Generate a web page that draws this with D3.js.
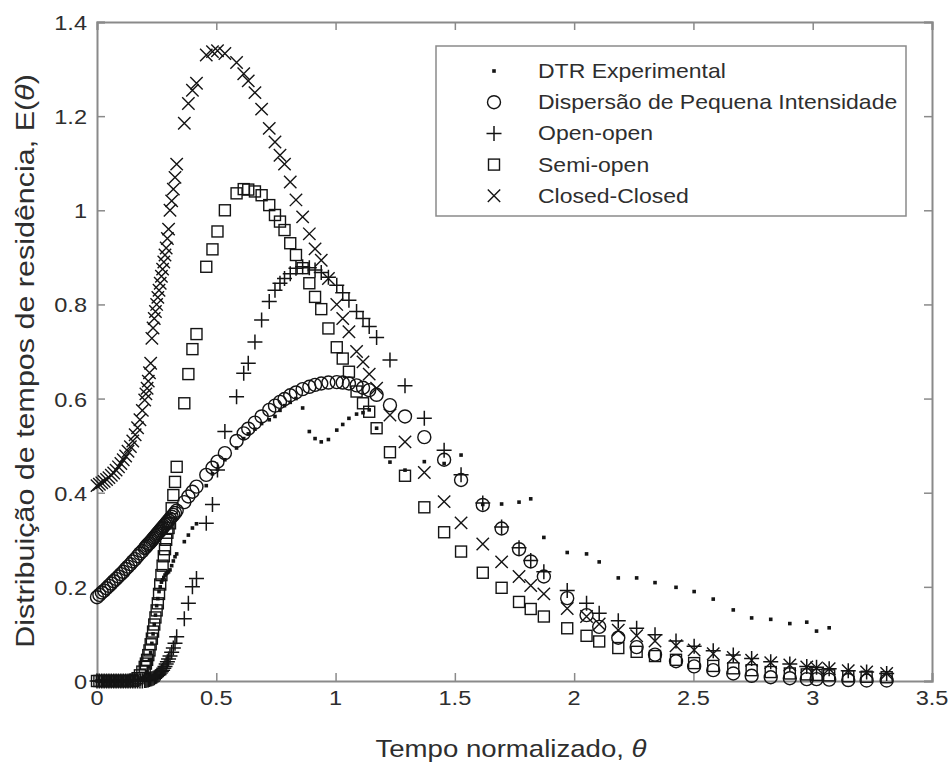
<!DOCTYPE html>
<html>
<head>
<meta charset="utf-8">
<script src="https://cdn.jsdelivr.net/npm/d3@7/dist/d3.min.js"></script>
<style>
  html, body { margin: 0; padding: 0; background: #fff; }
  svg { display: block; }
</style>
</head>
<body>
<svg id="chart" width="950" height="762"></svg>
<script>
// Normalised time grid shared by all series
const theta = [
  0, 0.01, 0.02, 0.03, 0.04, 0.05, 0.06, 0.07, 0.08, 0.09, 0.10, 0.11, 0.12, 0.13, 0.14, 0.15, 0.16, 0.17, 0.18, 0.19, 0.20,
  0.205, 0.21, 0.215, 0.22, 0.225, 0.23, 0.235, 0.24, 0.245, 0.25, 0.255, 0.26, 0.265, 0.27, 0.275, 0.28, 0.285, 0.29, 0.295, 0.30,
  0.306, 0.313, 0.32, 0.327, 0.334,
  0.366, 0.383, 0.40, 0.417,
  0.458, 0.484, 0.505, 0.536, 0.585, 0.615, 0.634, 0.662, 0.69, 0.722, 0.746, 0.767, 0.786, 0.81, 0.834, 0.862, 0.89, 0.914, 0.94, 0.97,
  1.005, 1.03, 1.056, 1.088, 1.115, 1.141, 1.172, 1.228, 1.291, 1.372, 1.455, 1.526, 1.617, 1.696, 1.769, 1.818, 1.873, 1.971,
  2.052, 2.105, 2.185, 2.262, 2.339, 2.427, 2.503, 2.583, 2.667, 2.744, 2.824, 2.904, 2.975, 3.016, 3.069, 3.149, 3.226, 3.31
];

// DTR Experimental
const experimental = [
  0, 0, 0, 0, 0, 0, 0, 0, 0, 0, 0, 0, 0, 0, 0, 0, 0.001, 0.002, 0.003, 0.006, 0.01,
  0.015, 0.02, 0.03, 0.045, 0.06, 0.08, 0.10, 0.12, 0.14, 0.16, 0.175, 0.19, 0.20, 0.21, 0.215, 0.22, 0.225, 0.228, 0.23, 0.232,
  0.236, 0.245, 0.255, 0.264, 0.27,
  0.296, 0.31, 0.325, 0.334,
  0.415, 0.44, 0.45, 0.47, 0.495, 0.515, 0.525, 0.535, 0.547, 0.555, 0.562, 0.575, 0.585, 0.592, 0.60, 0.58, 0.53, 0.515, 0.508, 0.513,
  0.533, 0.545, 0.558, 0.567, 0.57, 0.576, 0.537, 0.465, 0.448, 0.466, 0.462, 0.48, 0.375, 0.376, 0.38, 0.387, 0.305, 0.273,
  0.27, 0.253, 0.219, 0.219, 0.209, 0.199, 0.19, 0.174, 0.151, 0.134, 0.131, 0.122, 0.125, 0.106, 0.113, null, null, null
];

// Dispersão de Pequena Intensidade
const smallDispersion = [
  0.178, 0.183, 0.188, 0.192, 0.197, 0.202, 0.207, 0.212, 0.217, 0.222, 0.227, 0.232, 0.238, 0.243, 0.248, 0.254, 0.259, 0.265, 0.271, 0.276, 0.282,
  0.285, 0.288, 0.291, 0.293, 0.296, 0.299, 0.302, 0.305, 0.308, 0.311, 0.314, 0.317, 0.32, 0.323, 0.326, 0.329, 0.332, 0.335, 0.338, 0.341,
  0.345, 0.349, 0.353, 0.357, 0.362,
  0.38, 0.392, 0.402, 0.413,
  0.438, 0.453, 0.466, 0.484, 0.51, 0.526, 0.536, 0.549, 0.562, 0.576, 0.585, 0.593, 0.599, 0.607, 0.613, 0.62, 0.625, 0.629, 0.632, 0.634,
  0.635, 0.634, 0.632, 0.628, 0.623, 0.618, 0.608, 0.586, 0.562, 0.518, 0.47, 0.427, 0.374, 0.324, 0.28, 0.254, 0.222, 0.176,
  0.14, 0.115, 0.092, 0.072, 0.056, 0.042, 0.031, 0.023, 0.016, 0.011, 0.008, 0.006, 0.004, 0.004, 0.003, 0.002, 0.001, 0.001
];

// Open-open
const openOpen = [
  0, 0, 0, 0, 0, 0, 0, 0, 0, 0, 0, 0, 0, 0, 0, 0, 0, 0, 0, 0, 0.001,
  0.001, 0.002, 0.002, 0.003, 0.004, 0.005, 0.006, 0.007, 0.009, 0.01, 0.012, 0.014, 0.017, 0.02, 0.023, 0.027, 0.031, 0.036, 0.041, 0.047,
  0.053, 0.061, 0.07, 0.08, 0.094,
  0.132, 0.165, 0.2, 0.218,
  0.335, 0.375, 0.448, 0.53, 0.604, 0.654, 0.675, 0.72, 0.767, 0.806, 0.83, 0.845, 0.855, 0.865, 0.877, 0.88, 0.878, 0.873, 0.868, 0.858,
  0.841, 0.825, 0.809, 0.785, 0.77, 0.753, 0.73, 0.682, 0.627, 0.558, 0.49, 0.438, 0.378, 0.327, 0.283, 0.256, 0.232, 0.192,
  0.165, 0.144, 0.128, 0.112, 0.098, 0.085, 0.074, 0.064, 0.055, 0.048, 0.041, 0.036, 0.031, 0.029, 0.026, 0.022, 0.019, 0.016
];

// Semi-open
const semiOpen = [
  0, 0, 0, 0, 0, 0, 0, 0, 0, 0, 0, 0, 0, 0, 0, 0, 0.003, 0.006, 0.012, 0.02, 0.03,
  0.037, 0.045, 0.055, 0.065, 0.078, 0.09, 0.105, 0.12, 0.135, 0.15, 0.165, 0.185, 0.205, 0.225, 0.245, 0.265, 0.28, 0.30, 0.315, 0.325,
  0.335, 0.367, 0.395, 0.423, 0.455,
  0.59, 0.652, 0.705, 0.737,
  0.88, 0.917, 0.955, 1.0, 1.036, 1.045, 1.044, 1.04, 1.032, 1.011, 0.99, 0.976, 0.958, 0.93, 0.905, 0.877, 0.845, 0.816, 0.79, 0.749,
  0.709, 0.685, 0.657, 0.615, 0.59, 0.572, 0.537, 0.486, 0.436, 0.369, 0.316, 0.275, 0.23, 0.198, 0.168, 0.153, 0.137, 0.112,
  0.096, 0.084, 0.07, 0.062, 0.053, 0.045, 0.038, 0.032, 0.027, 0.023, 0.019, 0.016, 0.014, 0.013, 0.012, 0.01, 0.009, 0.008
];

// Closed-Closed
const closedClosed = [
  0.415, 0.418, 0.421, 0.424, 0.428, 0.432, 0.437, 0.442, 0.448, 0.455, 0.462, 0.47, 0.478, 0.488, 0.498, 0.51, 0.523, 0.538, 0.555, 0.575, 0.597,
  0.61, 0.622, 0.637, 0.655, 0.675, 0.728, 0.75, 0.77, 0.785, 0.80, 0.815, 0.83, 0.845, 0.86, 0.875, 0.89, 0.905, 0.92, 0.94, 0.96,
  1.0, 1.02, 1.045, 1.07, 1.098,
  1.185, 1.227, 1.255, 1.27,
  1.33, 1.337, 1.339, 1.333, 1.314, 1.29, 1.275, 1.25, 1.215, 1.174, 1.145, 1.117, 1.098, 1.06, 1.022, 0.986, 0.95, 0.918, 0.894, 0.855,
  0.80, 0.77, 0.742, 0.70, 0.678, 0.652, 0.622, 0.565, 0.508, 0.443, 0.381, 0.336, 0.291, 0.253, 0.222, 0.203, 0.185, 0.154,
  0.137, 0.121, 0.108, 0.096, 0.085, 0.075, 0.066, 0.058, 0.05, 0.044, 0.039, 0.034, 0.03, 0.028, 0.026, 0.022, 0.019, 0.016
];

const seriesNames = ["DTR Experimental", "Dispersão de Pequena Intensidade", "Open-open", "Semi-open", "Closed-Closed"];
const seriesValues = [experimental, smallDispersion, openOpen, semiOpen, closedClosed];
const seriesMarkers = ["dot", "circle", "plus", "square", "cross"];

const xTickValues = [0, 0.5, 1, 1.5, 2, 2.5, 3, 3.5];
const xTickLabels = ["0", "0.5", "1", "1.5", "2", "2.5", "3", "3.5"];
const yTickValues = [0, 0.2, 0.4, 0.6, 0.8, 1, 1.2, 1.4];
const yTickLabels = ["0", "0.2", "0.4", "0.6", "0.8", "1", "1.2", "1.4"];

const xTitle = "Tempo normalizado, ";
const yTitle = "Distribuição de tempos de residência, E(";

// ---- layout ----
const plot = { left: 97, right: 932, top: 22, bottom: 681 };
const axisColor = "#8a8a8a";
const textColor = "#2e2e2e";
const markColor = "#141414";
const fontFamily = "'Liberation Sans', Arial, Helvetica, sans-serif";
const stretch = 1.15;   // glyphs are set slightly wide

const svg = d3.select("#chart");
const x = d3.scaleLinear().domain([0, 3.5]).range([plot.left, plot.right]);
const y = d3.scaleLinear().domain([0, 1.4]).range([plot.bottom, plot.top]);

svg.append("rect").attr("width", 950).attr("height", 762).attr("fill", "#fff");

// Axes: ticks point inward on all four sides
const tick = 8;
svg.append("g").attr("transform", `translate(0,${plot.bottom})`)
  .call(d3.axisBottom(x).tickValues(xTickValues).tickSize(-tick).tickFormat(""));
svg.append("g").attr("transform", `translate(0,${plot.top})`)
  .call(d3.axisTop(x).tickValues(xTickValues).tickSize(-tick).tickFormat(""));
svg.append("g").attr("transform", `translate(${plot.left},0)`)
  .call(d3.axisLeft(y).tickValues(yTickValues).tickSize(-tick).tickFormat(""));
svg.append("g").attr("transform", `translate(${plot.right},0)`)
  .call(d3.axisRight(y).tickValues(yTickValues).tickSize(-tick).tickFormat(""));
svg.selectAll(".domain").attr("stroke", axisColor).attr("stroke-width", 2);
svg.selectAll(".tick line").attr("stroke", axisColor).attr("stroke-width", 1.5);

function label(parent, px, py, str, size, anchor) {
  return parent.append("text")
    .attr("transform", `translate(${px},${py}) scale(${stretch},1)`)
    .attr("text-anchor", anchor)
    .attr("font-family", fontFamily)
    .attr("font-size", size)
    .attr("fill", textColor)
    .text(str);
}

const tickFont = 20.5;
xTickValues.forEach((v, i) => label(svg, x(v), plot.bottom + 24, xTickLabels[i], tickFont, "middle"));
yTickValues.forEach((v, i) => label(svg, plot.left - 10, y(v) + 8, yTickLabels[i], tickFont, "end"));

// Axis titles
const xt = label(svg, 511, 757, xTitle, 24, "middle");
xt.append("tspan").attr("font-style", "italic").text("\u03B8");
const yt = svg.append("text")
  .attr("transform", `translate(34,361) rotate(-90) scale(${stretch},1)`)
  .attr("text-anchor", "middle")
  .attr("font-family", fontFamily)
  .attr("font-size", 26.5)
  .attr("fill", textColor)
  .text(yTitle);
yt.append("tspan").attr("font-style", "italic").text("\u03B8");
yt.append("tspan").text(")");

// Marker painters
function drawMarker(g, kind, cx, cy) {
  if (kind === "dot") {
    g.append("rect").attr("x", cx - 1.8).attr("y", cy - 1.8).attr("width", 3.6).attr("height", 3.6)
      .attr("fill", markColor);
  } else if (kind === "circle") {
    g.append("circle").attr("cx", cx).attr("cy", cy).attr("r", 6.5)
      .attr("fill", "none").attr("stroke", markColor).attr("stroke-width", 1.4);
  } else if (kind === "plus") {
    const s = 7.5;
    g.append("path").attr("d", `M${cx - s},${cy}H${cx + s}M${cx},${cy - s}V${cy + s}`)
      .attr("fill", "none").attr("stroke", markColor).attr("stroke-width", 1.5);
  } else if (kind === "square") {
    const s = 5.5;
    g.append("rect").attr("x", cx - s).attr("y", cy - s).attr("width", 2 * s).attr("height", 2 * s)
      .attr("fill", "none").attr("stroke", markColor).attr("stroke-width", 1.4);
  } else if (kind === "cross") {
    const s = 6.2;
    g.append("path").attr("d", `M${cx - s},${cy - s}L${cx + s},${cy + s}M${cx - s},${cy + s}L${cx + s},${cy - s}`)
      .attr("fill", "none").attr("stroke", markColor).attr("stroke-width", 1.4);
  }
}

// Scatter series
const marks = svg.append("g");
seriesValues.forEach((vals, si) => {
  const g = marks.append("g").attr("class", "series-" + si);
  theta.forEach((t, i) => {
    const v = vals[i];
    if (v === null || v === undefined) return;
    drawMarker(g, seriesMarkers[si], x(t), y(v));
  });
});

// Legend
const legend = svg.append("g");
legend.append("rect").attr("x", 436).attr("y", 46).attr("width", 470).attr("height", 170)
  .attr("fill", "#fff").attr("stroke", axisColor).attr("stroke-width", 1.5);
seriesNames.forEach((name, i) => {
  const ly = 71 + i * 31.2;
  drawMarker(legend, seriesMarkers[i], 494, ly);
  label(legend, 538, ly + 7, name, 20, "start");
});
</script>
</body>
</html>
